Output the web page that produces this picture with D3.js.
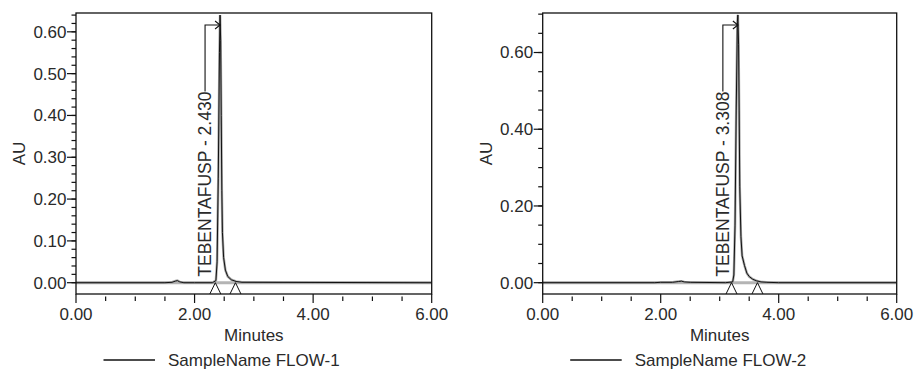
<!DOCTYPE html>
<html>
<head>
<meta charset="utf-8">
<script src="https://cdn.jsdelivr.net/npm/d3@7"></script>
<style>
  html, body { margin: 0; padding: 0; background: #fff; }
  svg { display: block; }
  text { font-family: "Liberation Sans", Arial, sans-serif; fill: #2a2a2a; }
</style>
</head>
<body>
<svg id="chart" width="916" height="371"></svg>
<script>
// ---- Data ----
const sample1Time = [0.00, 1.50, 1.62, 1.68, 1.71, 1.75, 1.82, 2.00, 2.30, 2.36, 2.38, 2.40, 2.42, 2.43, 2.44, 2.45, 2.46, 2.47, 2.49, 2.52, 2.56, 2.62, 2.70, 2.80, 6.00];
const sample1AU   = [0.000, 0.000, 0.001, 0.004, 0.005, 0.002, 0.000, 0.000, 0.000, 0.005, 0.05, 0.25, 0.55, 0.640, 0.58, 0.40, 0.22, 0.12, 0.06, 0.03, 0.015, 0.007, 0.003, 0.001, 0.000];

const sample2Time = [0.00, 1.90, 2.00, 2.20, 2.30, 2.35, 2.40, 2.50, 3.10, 3.22, 3.24, 3.26, 3.28, 3.30, 3.308, 3.32, 3.33, 3.34, 3.36, 3.38, 3.42, 3.46, 3.50, 3.56, 3.62, 3.70, 3.80, 4.00, 6.00];
const sample2AU   = [0.000, 0.000, 0.001, 0.001, 0.003, 0.004, 0.002, 0.001, 0.000, 0.002, 0.02, 0.15, 0.45, 0.68, 0.698, 0.62, 0.45, 0.25, 0.12, 0.07, 0.045, 0.025, 0.016, 0.009, 0.005, 0.002, 0.001, 0.000, 0.000];

const sampleNames = ["SampleName FLOW-1", "SampleName FLOW-2"];
const peakNames = ["TEBENTAFUSP - 2.430", "TEBENTAFUSP - 3.308"];
const peakTimes = [2.430, 3.308];
const peakHeights = [0.640, 0.698];
const integrationMarks1 = [2.35, 2.69];
const integrationMarks2 = [3.20, 3.64];

const xDomain = [0, 6];
const xMajorTicks = [0, 2, 4, 6];
const xMinorTicks = [0.5, 1, 1.5, 2.5, 3, 3.5, 4.5, 5, 5.5];
const yDomain1 = [-0.027, 0.645];
const yDomain2 = [-0.0295, 0.703];
const yMajorTicks1 = [0, 0.1, 0.2, 0.3, 0.4, 0.5, 0.6];
const yMinorStep1 = 0.02;
const yMajorTicks2 = [0, 0.2, 0.4, 0.6];
const yMinorStep2 = 0.05;
const xLabel = "Minutes";
const yLabel = "AU";

// ---- Drawing ----
const svg = d3.select("#chart");

const panels = [
  { left: 76, right: 431.7, top: 13, bottom: 294, time: sample1Time, au: sample1AU,
    yDomain: yDomain1, yMajor: yMajorTicks1, yMinorStep: yMinorStep1,
    name: sampleNames[0], peak: peakNames[0], peakT: peakTimes[0], peakH: peakHeights[0], marks: integrationMarks1 },
  { left: 542.7, right: 896.7, top: 13, bottom: 294, time: sample2Time, au: sample2AU,
    yDomain: yDomain2, yMajor: yMajorTicks2, yMinorStep: yMinorStep2,
    name: sampleNames[1], peak: peakNames[1], peakT: peakTimes[1], peakH: peakHeights[1], marks: integrationMarks2 }
];

panels.forEach((p, i) => {
  const g = svg.append("g");
  const x = d3.scaleLinear().domain(xDomain).range([p.left, p.right]);
  const y = d3.scaleLinear().domain(p.yDomain).range([p.bottom, p.top]);

  const clipId = "clip" + i;
  svg.append("clipPath").attr("id", clipId)
    .append("rect").attr("x", p.left).attr("y", p.top)
    .attr("width", p.right - p.left).attr("height", p.bottom - p.top);

  const plot = g.append("g").attr("clip-path", `url(#${clipId})`);

  // gray baseline
  plot.append("line")
    .attr("x1", p.left).attr("x2", p.right)
    .attr("y1", y(0)).attr("y2", y(0))
    .attr("stroke", "#b4b4b4").attr("stroke-width", 3);

  const pts = p.time.map((t, k) => [t, p.au[k]]);
  const line = d3.line().x(d => x(d[0])).y(d => y(d[1]));

  // gray underlay of trace
  plot.append("path").datum(pts)
    .attr("d", line).attr("fill", "none")
    .attr("stroke", "#a8a8a8").attr("stroke-width", 2.5);
  // black trace
  plot.append("path").datum(pts)
    .attr("d", line).attr("fill", "none")
    .attr("stroke", "#111").attr("stroke-width", 1);

  // integration marks (caret shapes)
  p.marks.forEach(m => {
    const cx = x(m);
    plot.append("path")
      .attr("d", `M${cx - 5.5},${p.bottom} L${cx},${y(0)} L${cx + 5.5},${p.bottom}`)
      .attr("fill", "none").attr("stroke", "#111").attr("stroke-width", 1);
  });

  // frame
  g.append("rect")
    .attr("x", p.left).attr("y", p.top)
    .attr("width", p.right - p.left).attr("height", p.bottom - p.top)
    .attr("fill", "none").attr("stroke", "#111").attr("stroke-width", 1.3);

  // x ticks
  xMajorTicks.forEach(t => {
    g.append("line").attr("x1", x(t)).attr("x2", x(t))
      .attr("y1", p.bottom).attr("y2", p.bottom + 9)
      .attr("stroke", "#111").attr("stroke-width", 1.2);
    g.append("text").attr("x", x(t)).attr("y", p.bottom + 25.5)
      .attr("text-anchor", "middle").attr("font-size", 17)
      .text(d3.format(".2f")(t));
  });
  xMinorTicks.forEach(t => {
    g.append("line").attr("x1", x(t)).attr("x2", x(t))
      .attr("y1", p.bottom + 2.5).attr("y2", p.bottom + 7)
      .attr("stroke", "#111").attr("stroke-width", 1.2);
  });

  // y ticks
  const nMinor = Math.floor((p.yDomain[1] + 1e-9) / p.yMinorStep);
  const minor = d3.range(0, nMinor + 1).map(k => +(k * p.yMinorStep).toFixed(3));
  minor.forEach(v => {
    if (v > p.yDomain[1] + 1e-6) return;
    g.append("line").attr("x1", p.left - 4.5).attr("x2", p.left)
      .attr("y1", y(v)).attr("y2", y(v))
      .attr("stroke", "#111").attr("stroke-width", 1.2);
  });
  p.yMajor.forEach(v => {
    g.append("line").attr("x1", p.left - 9).attr("x2", p.left)
      .attr("y1", y(v)).attr("y2", y(v))
      .attr("stroke", "#111").attr("stroke-width", 1.2);
    g.append("text").attr("x", p.left - 9.5).attr("y", y(v))
      .attr("dy", "0.35em")
      .attr("text-anchor", "end").attr("font-size", 17)
      .text(d3.format(".2f")(v));
  });

  // axis titles
  g.append("text")
    .attr("transform", `translate(${p.left - 51},${(p.top + p.bottom) / 2}) rotate(-90)`)
    .attr("text-anchor", "middle").attr("font-size", 17)
    .text(yLabel);
  g.append("text")
    .attr("x", (p.left + p.right) / 2).attr("y", p.bottom + 46.5)
    .attr("text-anchor", "middle").attr("font-size", 17)
    .text(xLabel);

  // legend
  g.append("line")
    .attr("x1", p.left + 27.5).attr("x2", p.left + 79)
    .attr("y1", 360).attr("y2", 360)
    .attr("stroke", "#111").attr("stroke-width", 1.3);
  g.append("text")
    .attr("x", p.left + 92).attr("y", 360).attr("dy", "0.35em")
    .attr("font-size", 17).text(p.name);

  // peak annotation
  const px = x(p.peakT);
  const lx = px - 15;
  const textBottom = y(0) - 6;
  const lab = g.append("text")
    .attr("transform", `translate(${lx + 6},${textBottom}) rotate(-90)`)
    .attr("font-size", 17.5)
    .text(p.peak);
  const len = lab.node().getComputedTextLength();
  const textTop = textBottom - len;
  const arrowY = p.top + 12;
  g.append("path")
    .attr("d", `M${lx},${textTop} L${lx},${arrowY} L${px},${arrowY}`)
    .attr("fill", "none").attr("stroke", "#111").attr("stroke-width", 1.1);
  g.append("path")
    .attr("d", `M${px - 5},${arrowY - 4} L${px},${arrowY} L${px - 5},${arrowY + 4}`)
    .attr("fill", "none").attr("stroke", "#111").attr("stroke-width", 1.1);
});
</script>
</body>
</html>
